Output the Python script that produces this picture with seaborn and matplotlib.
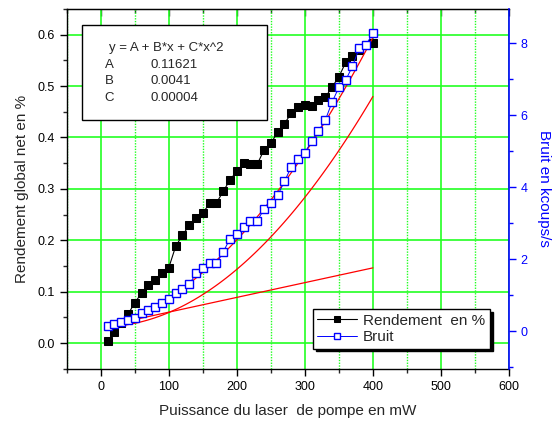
import numpy as np
import pandas as pd
import matplotlib
matplotlib.use("Agg")
from matplotlib import pyplot as plt
from matplotlib.ticker import MultipleLocator
from matplotlib.patches import Rectangle
import seaborn as sns

# puissance de pompe (mW)
puissance = [10, 20, 30, 40, 50, 60, 70, 80, 90, 100,
             110, 120, 130, 140, 150, 160, 170, 180, 190, 200,
             210, 220, 230, 240, 250, 260, 270, 280, 290, 300,
             310, 320, 330, 340, 350, 360, 370, 380, 390, 400]

rendement = [0.004, 0.022, 0.040, 0.056, 0.079, 0.097, 0.113, 0.123, 0.136, 0.147,
             0.188, 0.210, 0.229, 0.244, 0.253, 0.272, 0.273, 0.295, 0.318, 0.334,
             0.350, 0.348, 0.348, 0.376, 0.389, 0.410, 0.427, 0.447, 0.459, 0.464,
             0.461, 0.472, 0.478, 0.498, 0.518, 0.546, 0.559, 0.571, 0.580, 0.583]

bruit = [0.14, 0.21, 0.26, 0.31, 0.37, 0.49, 0.58, 0.68, 0.77, 0.89,
         1.05, 1.17, 1.30, 1.60, 1.74, 1.88, 1.88, 2.20, 2.57, 2.71,
         2.90, 3.06, 3.07, 3.38, 3.57, 3.77, 4.16, 4.56, 4.77, 4.96,
         5.28, 5.56, 5.86, 6.36, 6.77, 6.97, 7.36, 7.86, 7.96, 8.27]

# parametres du fit polynomial affiche dans le cadre
fit_names = ["A", "B", "C"]
fit_values = [0.11621, 0.0041, 0.00004]
fit_labels = ["0.11621", "0.0041", "0.00004"]

data = pd.DataFrame({"P": puissance, "rendement": rendement, "bruit": bruit})

A, B, C = fit_values
xf = np.linspace(10, 400, 120)
fits = pd.DataFrame({"P": xf,
                     "full": A + B * xf + C * xf ** 2,
                     "quad": A + C * xf ** 2,
                     "lin": A + B * xf})

sns.set_style("ticks")
plt.rcParams['font.family'] = ['Liberation Sans', 'DejaVu Sans']

fig = plt.figure(figsize=(5.52, 4.24), dpi=100)
ax = fig.add_axes([0.121, 0.130, 0.801, 0.849])
ax2 = ax.twinx()

green = '#22ff22'
ax.set_axisbelow(True)
ax.xaxis.grid(True, which='major', color=green, lw=1.2, ls='-')
ax.xaxis.grid(True, which='minor', color=green, lw=1.0, ls=(0, (1, 1)))
ax.yaxis.grid(True, which='major', color=green, lw=1.2, ls='-')

sns.lineplot(data=data, x="P", y="rendement", ax=ax, color='black', lw=0.8,
             marker='s', markersize=5.5, markeredgecolor='black',
             label="Rendement  en %", zorder=3)

for col in ["full", "quad", "lin"]:
    sns.lineplot(data=fits, x="P", y=col, ax=ax2, color='red', lw=0.9, zorder=2)
sns.lineplot(data=data, x="P", y="bruit", ax=ax2, color='blue', lw=0.7,
             marker='s', markersize=5.2, markerfacecolor='white',
             markeredgecolor='blue', markeredgewidth=1.0,
             label="Bruit", zorder=3)

ax.set_xlim(-50, 600)
ax.set_ylim(-0.05, 0.65)
ax2.set_ylim(-1.05, 8.95)

ax.xaxis.set_major_locator(MultipleLocator(100))
ax.xaxis.set_minor_locator(MultipleLocator(50))
ax.yaxis.set_major_locator(MultipleLocator(0.1))
ax.yaxis.set_minor_locator(MultipleLocator(0.05))
ax.yaxis.set_major_formatter(matplotlib.ticker.FormatStrFormatter('%.1f'))
ax2.yaxis.set_major_locator(MultipleLocator(2))
ax2.yaxis.set_minor_locator(MultipleLocator(1))

ax.tick_params(axis='both', which='major', direction='out', length=5, width=1,
               labelsize=9, colors='black')
ax.tick_params(axis='both', which='minor', direction='out', length=3, width=1)
ax.tick_params(axis='x', top=False)
ax2.tick_params(axis='y', which='major', direction='out', length=5, width=1,
                labelsize=9, colors='blue')
ax2.tick_params(axis='y', which='minor', direction='out', length=3, width=1,
                colors='blue')

top = ax.secondary_xaxis('top')
top.xaxis.set_major_locator(MultipleLocator(100))
top.xaxis.set_minor_locator(MultipleLocator(50))
top.tick_params(which='major', direction='in', length=5, width=1, labeltop=False)
top.tick_params(which='minor', direction='in', length=3, width=1)

for s in ax.spines.values():
    s.set_color('black')
    s.set_linewidth(1.0)
ax.spines['right'].set_visible(False)
ax2.spines['right'].set_color('blue')
ax2.spines['right'].set_linewidth(1.2)
for s in ['left', 'top', 'bottom']:
    ax2.spines[s].set_visible(False)

ax.set_xlabel("Puissance du laser  de pompe en mW", fontsize=11, labelpad=8)
ax.set_ylabel("Rendement global net en %", fontsize=11, labelpad=6)
ax2.set_ylabel("Bruit en kcoups/s", fontsize=11, color='blue', rotation=270,
               labelpad=17)

# cadre des parametres du fit
ax.add_patch(Rectangle((0.034, 0.692), 0.418, 0.264, transform=ax.transAxes,
                       facecolor='white', edgecolor='black', lw=1.0, zorder=5))
ax.text(0.095, 0.892, "y = A + B*x + C*x^2", transform=ax.transAxes,
        fontsize=9.5, va='center', zorder=6)
for i, (n, v) in enumerate(zip(fit_names, fit_labels)):
    yy = 0.845 - i * 0.046
    ax.text(0.086, yy, n, transform=ax.transAxes, fontsize=9.5, va='center', zorder=6)
    ax.text(0.190, yy, v, transform=ax.transAxes, fontsize=9.5, va='center', zorder=6)

if ax.get_legend() is not None:
    ax.get_legend().remove()
if ax2.get_legend() is not None:
    ax2.get_legend().remove()
h1, l1 = ax.get_legend_handles_labels()
h2, l2 = ax2.get_legend_handles_labels()
leg = ax2.legend(h1 + h2, l1 + l2, loc='lower right',
                 bbox_to_anchor=(0.957, 0.056), borderaxespad=0, fontsize=11,
                 frameon=True, fancybox=False, edgecolor='black', framealpha=1,
                 shadow={'color': 'black', 'alpha': 1}, handlelength=2.6,
                 handletextpad=0.4, borderpad=0.3, labelspacing=0.15,
                 markerscale=0.9)
leg.get_frame().set_linewidth(1.0)
leg.set_zorder(10)

plt.savefig("out.png", dpi=100)
